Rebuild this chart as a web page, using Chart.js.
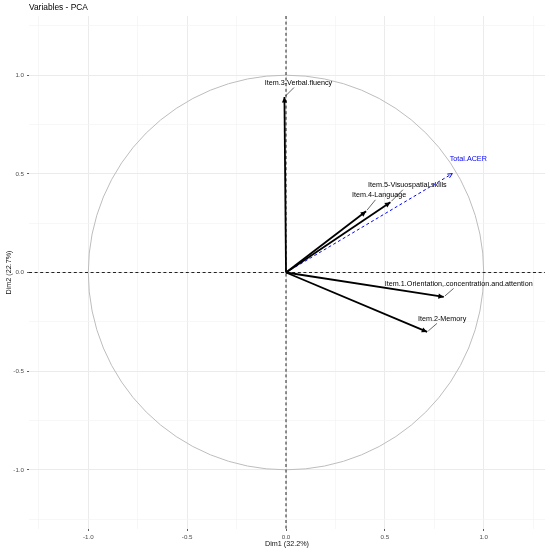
<!DOCTYPE html>
<html>
<head>
<meta charset="utf-8">
<script src="https://cdn.jsdelivr.net/npm/chart.js@4.4.1/dist/chart.umd.min.js"></script>
<style>
  html, body { margin: 0; padding: 0; background: #fff; }
  #wrap { width: 550px; height: 552px; }
</style>
</head>
<body>
<div id="wrap"><canvas id="pca" width="550" height="552"></canvas></div>
<script>
// active variables, coordinates on the first two dimensions
var variables = [
    'Item.1.Orientation,.concentration.and.attention',
    'Item.2-Memory',
    'Item.3-Verbal.fluency',
    'Item.4-Language',
    'Item.5-Visuospatial.skills'
];
var dim1 = [0.798, 0.714, -0.008, 0.405, 0.528];
var dim2 = [-0.124, -0.301, 0.889, 0.310, 0.356];

// supplementary variable (blue, dashed)
var supVariables = ['Total.ACER'];
var supDim1 = [0.841];
var supDim2 = [0.501];

var majorTicks = [-1, -0.5, 0, 0.5, 1];
var gridTicks = [-1.25, -1, -0.75, -0.5, -0.25, 0, 0.25, 0.5, 0.75, 1, 1.25];

var FONT = "'Liberation Sans', Arial, sans-serif";

// where the repelled labels ended up, px from the arrow tip
var labelShift = [[15, -13], [15, -13], [14, -14], [13, -16], [17, -17]];
var supLabelShift = [[16, -15]];

function isMajor(v) {
    return majorTicks.indexOf(v) >= 0;
}

var datasets = [];
variables.forEach(function (name, i) {
    datasets.push({
        label: name,
        data: [{x: 0, y: 0}, {x: dim1[i], y: dim2[i]}],
        showLine: true,
        borderColor: '#000',
        borderWidth: 1.8,
        pointRadius: 0,
        sup: false,
        shift: labelShift[i]
    });
});
supVariables.forEach(function (name, i) {
    datasets.push({
        label: name,
        data: [{x: 0, y: 0}, {x: supDim1[i], y: supDim2[i]}],
        showLine: true,
        borderColor: '#0000ff',
        borderWidth: 1,
        borderDash: [3, 2.5],
        pointRadius: 0,
        sup: true,
        shift: supLabelShift[i]
    });
});

var pcaDecor = {
    id: 'pcaDecor',
    beforeDatasetsDraw(chart) {
        let ctx = chart.ctx, a = chart.chartArea;
        let xs = chart.scales.x, ys = chart.scales.y;
        let cx = xs.getPixelForValue(0), cy = ys.getPixelForValue(0);
        ctx.save();
        ctx.beginPath();
        ctx.rect(a.left, a.top, a.right - a.left, a.bottom - a.top);
        ctx.clip();
        // correlation circle
        ctx.beginPath();
        ctx.ellipse(cx, cy, xs.getPixelForValue(1) - cx, cy - ys.getPixelForValue(1), 0, 0, Math.PI * 2);
        ctx.strokeStyle = '#bdbdbd';
        ctx.lineWidth = 1;
        ctx.stroke();
        // dashed axes through the origin
        ctx.setLineDash([3, 2.6]);
        ctx.strokeStyle = '#222';
        ctx.lineWidth = 1;
        ctx.beginPath();
        ctx.moveTo(a.left, cy);
        ctx.lineTo(a.right, cy);
        ctx.moveTo(cx, a.top);
        ctx.lineTo(cx, a.bottom);
        ctx.stroke();
        ctx.restore();
    },
    afterDatasetsDraw(chart) {
        let ctx = chart.ctx;
        ctx.save();
        chart.data.datasets.forEach(function (ds, i) {
            let pts = chart.getDatasetMeta(i).data;
            let p0 = pts[0], p1 = pts[1];
            let ang = Math.atan2(p1.y - p0.y, p1.x - p0.x);
            let len = ds.sup ? 5 : 6, spread = Math.PI / 7;
            ctx.setLineDash([]);
            ctx.strokeStyle = ds.borderColor;
            ctx.fillStyle = ds.borderColor;
            if (ds.sup) {
                ctx.lineWidth = 1;
                ctx.beginPath();
                ctx.moveTo(p1.x - len * Math.cos(ang - spread), p1.y - len * Math.sin(ang - spread));
                ctx.lineTo(p1.x, p1.y);
                ctx.lineTo(p1.x - len * Math.cos(ang + spread), p1.y - len * Math.sin(ang + spread));
                ctx.stroke();
            } else {
                ctx.beginPath();
                ctx.moveTo(p1.x, p1.y);
                ctx.lineTo(p1.x - len * Math.cos(ang - spread), p1.y - len * Math.sin(ang - spread));
                ctx.lineTo(p1.x - len * Math.cos(ang + spread), p1.y - len * Math.sin(ang + spread));
                ctx.closePath();
                ctx.fill();
            }
            // label + leader segment
            let lx = p1.x + ds.shift[0], ly = p1.y + ds.shift[1];
            if (!ds.sup) {
                let t = (Math.abs(ds.shift[1]) - 4.5) / Math.abs(ds.shift[1]);
                let s = 1.5 / Math.hypot(ds.shift[0], ds.shift[1]);
                ctx.lineWidth = 0.6;
                ctx.strokeStyle = '#000';
                ctx.beginPath();
                ctx.moveTo(p1.x + ds.shift[0] * s, p1.y + ds.shift[1] * s);
                ctx.lineTo(p1.x + ds.shift[0] * t, p1.y + ds.shift[1] * t);
                ctx.stroke();
            }
            ctx.font = '7.2px ' + FONT;
            ctx.textAlign = 'center';
            ctx.textBaseline = 'middle';
            ctx.fillStyle = ds.sup ? '#0000ff' : '#000';
            ctx.fillText(ds.label, lx, ly);
        });
        ctx.restore();
    },
    afterDraw(chart) {
        let ctx = chart.ctx;
        ctx.save();
        ctx.font = '8.4px ' + FONT;
        ctx.fillStyle = '#000';
        ctx.textAlign = 'left';
        ctx.textBaseline = 'middle';
        ctx.fillText('Variables - PCA', chart.chartArea.left, 7.5);
        ctx.restore();
    }
};

function axis(min, max, titleText, horizontal) {
    return {
        type: 'linear',
        min: min,
        max: max,
        afterBuildTicks: function (scale) {
            scale.ticks = gridTicks.map(function (v) { return {value: v}; });
        },
        afterFit: function (scale) {
            if (horizontal) scale.height = 23; else scale.width = 29;
        },
        ticks: {
            autoSkip: false,
            maxRotation: 0,
            padding: 3,
            color: '#4d4d4d',
            font: {family: FONT, size: 6.2},
            callback: function (v) { return isMajor(v) ? v.toFixed(1) : ''; }
        },
        grid: {
            color: function (c) { return isMajor(c.tick.value) ? '#ebebeb' : '#f3f3f3'; },
            lineWidth: function (c) { return isMajor(c.tick.value) ? 1 : 0.7; },
            tickLength: 2,
            tickWidth: 0.8,
            tickColor: function (c) { return isMajor(c.tick.value) ? '#333' : 'rgba(0,0,0,0)'; }
        },
        border: {display: false},
        title: {
            display: true,
            text: titleText,
            color: '#111',
            font: {family: FONT, size: 7.2},
            padding: horizontal ? {top: 0, bottom: 4} : {top: 5, bottom: 0}
        }
    };
}

new Chart(document.getElementById('pca'), {
    type: 'scatter',
    data: {datasets: datasets},
    options: {
        responsive: false,
        animation: false,
        layout: {padding: {top: 16, right: 5, left: 0, bottom: 0}},
        plugins: {
            legend: {display: false},
            tooltip: {enabled: false}
        },
        scales: {
            x: axis(-1.3, 1.31, 'Dim1 (32.2%)', true),
            y: axis(-1.3, 1.3, 'Dim2 (22.7%)', false)
        }
    },
    plugins: [pcaDecor]
});
</script>
</body>
</html>
